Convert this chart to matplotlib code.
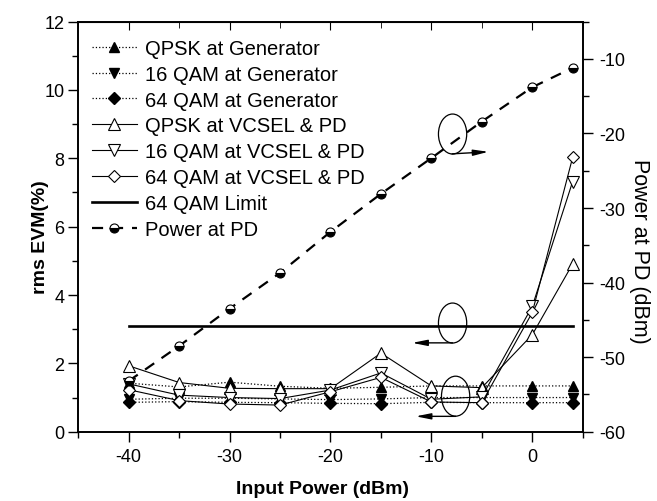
import matplotlib
matplotlib.use("Agg")
import matplotlib.pyplot as plt
from matplotlib.patches import Ellipse
from matplotlib.ticker import MultipleLocator

plt.rcParams["font.family"] = ["Liberation Sans", "DejaVu Sans"]
plt.rcParams["axes.unicode_minus"] = False

# ==========================================
# DATA
# ==========================================

input_power = [-40, -35, -30, -25, -20, -15, -10, -5, 0, 4]

qpsk_gen = [1.42, 1.31, 1.45, 1.33, 1.27, 1.30, 1.34, 1.34, 1.34, 1.34]
qam16_gen = [0.95, 0.98, 0.98, 0.96, 0.94, 0.96, 1.00, 1.00, 1.00, 1.00]
qam64_gen = [0.86, 0.88, 0.86, 0.85, 0.83, 0.82, 0.86, 0.85, 0.85, 0.85]

qpsk_vcsel = [1.93, 1.44, 1.27, 1.26, 1.26, 2.30, 1.34, 1.29, 2.84, 4.91]
qam16_vcsel = [1.40, 1.07, 1.00, 0.97, 1.22, 1.72, 0.95, 1.02, 3.67, 7.32]
qam64_vcsel = [1.23, 0.91, 0.81, 0.78, 1.17, 1.59, 0.87, 0.85, 3.49, 8.03]

limit_x = [-40, 4]
limit_evm = [3.1, 3.1]

power_pd = [-53.2, -48.5, -43.5, -38.7, -33.2, -28.1, -23.3, -18.4, -13.8, -11.2]

# ==========================================
# FIGURE
# ==========================================

fig = plt.figure(figsize=(6.57, 5.02), dpi=100)
ax = fig.add_axes([0.119, 0.138, 0.768, 0.817])
ax2 = ax.twinx()

gen_style = dict(color="black", linestyle=":", linewidth=0.9, markersize=7)
vcsel_style = dict(color="black", linestyle="-", linewidth=0.8,
                   markersize=8, markerfacecolor="white",
                   markeredgewidth=0.8)

h1, = ax.plot(input_power, qpsk_gen, marker="^",
              label="QPSK at Generator", **gen_style)
h2, = ax.plot(input_power, qam16_gen, marker="v",
              label="16 QAM at Generator", **gen_style)
h3, = ax.plot(input_power, qam64_gen, marker="D", markersize=6,
              label="64 QAM at Generator",
              color="black", linestyle=":", linewidth=0.9)
h4, = ax.plot(input_power, qpsk_vcsel, marker="^",
              label="QPSK at VCSEL & PD", **vcsel_style)
h5, = ax.plot(input_power, qam16_vcsel, marker="v",
              label="16 QAM at VCSEL & PD", **vcsel_style)
h6, = ax.plot(input_power, qam64_vcsel, marker="D",
              label="64 QAM at VCSEL & PD",
              color="black", linestyle="-", linewidth=0.8,
              markersize=6.5, markerfacecolor="white",
              markeredgewidth=0.8)
h7, = ax.plot(limit_x, limit_evm, color="black", linewidth=1.9,
              label="64 QAM Limit")

h8, = ax2.plot(input_power, power_pd, color="black",
               linestyle=(0, (5, 4)), linewidth=1.6,
               marker="o", markersize=6.5, fillstyle="bottom",
               markerfacecoloralt="white", markeredgewidth=0.8,
               label="Power at PD")

# ==========================================
# AXES
# ==========================================

ax.set_xlim(-45, 5)
ax.set_ylim(0, 12)
ax2.set_ylim(-60, -5)

ax.xaxis.set_major_locator(MultipleLocator(10))
ax.xaxis.set_minor_locator(MultipleLocator(5))
ax.yaxis.set_major_locator(MultipleLocator(2))
ax.yaxis.set_minor_locator(MultipleLocator(1))
ax2.yaxis.set_major_locator(MultipleLocator(10))
ax2.yaxis.set_minor_locator(MultipleLocator(5))

ax.tick_params(axis="both", which="both", direction="out",
               labelsize=13, width=1, top=False)
ax.tick_params(which="major", length=7)
ax.tick_params(which="minor", length=4)
ax.tick_params(axis="x", pad=5)
ax.tick_params(axis="y", pad=3)
ax2.tick_params(axis="y", which="both", direction="out",
                labelsize=13, width=1, pad=5)
ax2.tick_params(which="major", length=7)
ax2.tick_params(which="minor", length=4)

# top ticks pointing inward, no labels
top = ax.secondary_xaxis("top")
top.set_xticks([-40, -30, -20, -10, 0])
top.set_xticks([-45, -35, -25, -15, -5, 5], minor=True)
top.tick_params(which="both", direction="in", labeltop=False)
top.tick_params(which="major", length=6)
top.tick_params(which="minor", length=4)

for a in (ax, ax2):
    for s in a.spines.values():
        s.set_linewidth(1.2)

ax.set_xlabel("Input Power (dBm)", fontsize=14, fontweight="bold")
ax.xaxis.set_label_coords(0.484, -0.118)

ax.set_ylabel("rms EVM(%)", fontsize=14, fontweight="bold")
ax.yaxis.set_label_coords(-0.058, 0.476)

ax2.set_ylabel("Power at PD (dBm)", fontsize=15.5, rotation=270,
               va="center")
ax2.yaxis.set_label_coords(1.113, 0.442)

# ==========================================
# ELLIPSES + ARROWS
# ==========================================

ellipses = [(-7.9, 8.71), (-7.9, 3.18), (-7.6, 1.04)]
for cx, cy in ellipses:
    ax.add_patch(Ellipse((cx, cy), 2.8, 1.17, fill=False,
                         edgecolor="black", linewidth=0.9, zorder=5))

arrow_props = dict(arrowstyle="-|>,head_length=0.9,head_width=0.18",
                   color="black", linewidth=1.0,
                   shrinkA=0, shrinkB=0)
ax.annotate("", xy=(-4.35, 8.19), xytext=(-7.95, 8.13),
            arrowprops=arrow_props)
ax.annotate("", xy=(-11.9, 2.6), xytext=(-7.9, 2.6),
            arrowprops=arrow_props)
ax.annotate("", xy=(-11.55, 0.45), xytext=(-7.6, 0.45),
            arrowprops=arrow_props)

# ==========================================
# LEGEND
# ==========================================

ax.legend(handles=[h1, h2, h3, h4, h5, h6, h7, h8],
          loc="upper left", frameon=False, fontsize=14.5,
          handlelength=2.2, handletextpad=0.4, labelspacing=0.34,
          borderpad=0, borderaxespad=0,
          bbox_to_anchor=(0.028, 0.958))

fig.savefig("out.png", dpi=100)
plt.close(fig)
